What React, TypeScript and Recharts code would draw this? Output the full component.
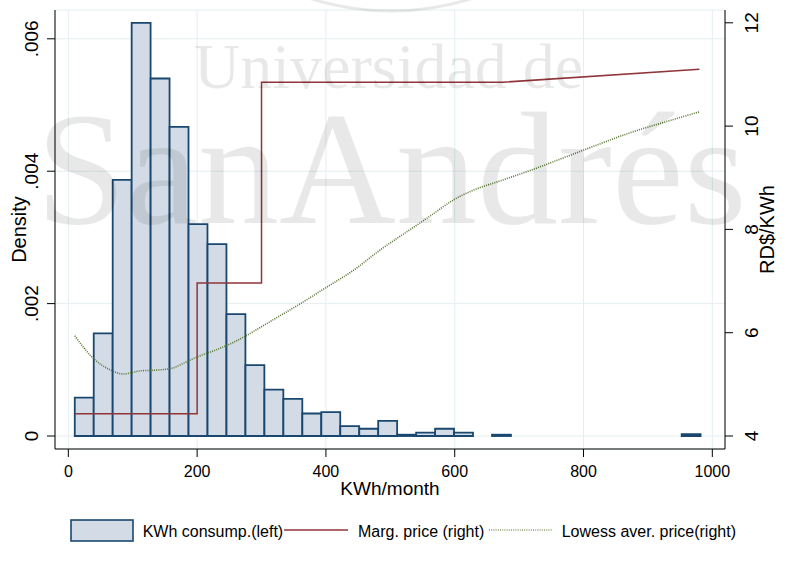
import React from 'react';
import { ComposedChart, Bar, Line, XAxis, YAxis, CartesianGrid } from 'recharts';

// ---------- data ----------
const binMids = [
  24.725, 54.175, 83.625, 113.075, 142.525, 171.975, 201.425, 230.875, 260.325,
  289.775, 319.225, 348.675, 378.125, 407.575, 437.025, 466.475, 495.925, 525.375,
  554.825, 584.275, 613.725, 643.175, 672.625, 702.075, 731.525, 760.975, 790.425,
  819.875, 849.325, 878.775, 908.225, 937.675, 967.125,
];
const densities = [
  0.00058, 0.00155, 0.00387, 0.00624, 0.0054, 0.00467, 0.0032, 0.0029, 0.00184,
  0.00107, 0.0007, 0.00056, 0.00034, 0.00036, 0.00015, 0.00011, 0.00023, 0.00002,
  0.00005, 0.00011, 0.00005, 0, 0.00002, 0, 0, 0, 0, 0, 0, 0, 0, 0, 0.00003,
];
const margKwh = [10, 200, 200, 300, 300, 675, 980];
const margPrice = [4.43, 4.43, 6.96, 6.96, 10.85, 10.85, 11.1];
const lowessKwh = [
  10, 39, 65, 85, 111, 142, 163, 184, 204, 230, 256, 287, 318, 360, 401, 443,
  484, 512, 536, 562, 598, 629, 666, 717, 774, 820, 872, 924, 981,
];
const lowessPrice = [
  5.94, 5.5, 5.28, 5.2, 5.26, 5.28, 5.32, 5.44, 5.55, 5.67, 5.81, 6.02, 6.25,
  6.56, 6.88, 7.21, 7.6, 7.84, 8.04, 8.26, 8.57, 8.76, 8.92, 9.14, 9.41, 9.63,
  9.87, 10.07, 10.28,
];
const xTicks = [0, 200, 400, 600, 800, 1000];
const densityTicks = [0, 0.002, 0.004, 0.006];
const priceTicks = [4, 6, 8, 10, 12];

const histData = binMids.map((mid, i) => ({ mid, density: densities[i] }));
const margData = margKwh.map((x, i) => ({ x, price: margPrice[i] }));
const lowessData = lowessKwh.map((x, i) => ({ x, price: lowessPrice[i] }));

// ---------- layout / style ----------
const W = 790;
const H = 575;
const MARGIN = { top: 10, right: 0, bottom: 66, left: 0 };
const LEFT_W = 55;
const RIGHT_W = 65;
const XAXIS_H = 60;
const X_DOMAIN: [number, number] = [-20.7, 1019.7];
const PLOT_W = W - MARGIN.left - MARGIN.right - LEFT_W - RIGHT_W;
const PLOT_BOTTOM = H - MARGIN.bottom - XAXIS_H;
const BIN_WIDTH = binMids[1] - binMids[0];
const BAR_PX = (BIN_WIDTH / (X_DOMAIN[1] - X_DOMAIN[0])) * PLOT_W - 0.05;

const FONT = '"Liberation Sans", Arial, Helvetica, sans-serif';
const SERIF = '"Liberation Serif", "Times New Roman", serif';
const BAR_FILL = '#D3DCE6';
const BAR_STROKE = '#1A476F';
const MARG = '#90353B';
const LOWESS = '#55752F';
const GRID = '#E4EEF1';

const fmtDensity = (v: number) => (v === 0 ? '0' : String(v).replace(/^0/, ''));

const LeftTick = (p: any) => {
  const bx = p.x - 9;
  return (
    <text x={bx} y={p.y} transform={`rotate(-90 ${bx} ${p.y})`} textAnchor="middle"
      fontSize={19} fontFamily={FONT} fill="#000">
      {fmtDensity(p.payload.value)}
    </text>
  );
};
const RightTick = (p: any) => {
  const bx = p.x + 25;
  return (
    <text x={bx} y={p.y} transform={`rotate(-90 ${bx} ${p.y})`} textAnchor="middle"
      fontSize={19} fontFamily={FONT} fill="#000">
      {p.payload.value}
    </text>
  );
};
const BottomTick = (p: any) => (
  <text x={p.x} y={p.y + 20} textAnchor="middle" fontSize={16} fontFamily={FONT} fill="#000">
    {p.payload.value}
  </text>
);

const LeftTitle = (p: any) => {
  const vb = p.viewBox || { x: 0, y: 10, width: 55, height: 439 };
  const bx = vb.x + 25.5;
  const cy = vb.y + vb.height / 2;
  return (
    <text x={bx} y={cy} transform={`rotate(-90 ${bx} ${cy})`} textAnchor="middle"
      fontSize={20} fontFamily={FONT} fill="#000">Density</text>
  );
};
const RightTitle = (p: any) => {
  const vb = p.viewBox || { x: 725, y: 10, width: 65, height: 439 };
  const bx = vb.x + 49;
  const cy = vb.y + vb.height / 2;
  return (
    <text x={bx} y={cy} transform={`rotate(-90 ${bx} ${cy})`} textAnchor="middle"
      fontSize={20} fontFamily={FONT} fill="#000">RD$/KWh</text>
  );
};

const Overlay = () => (
  <svg width={W} height={H} style={{ position: 'absolute', left: 0, top: 0, pointerEvents: 'none' }}>
    {/* watermark */}
    <text fill="#000" fillOpacity={0.09} fontFamily={SERIF}>
      <tspan x={194} y={88} fontSize={64}>Universidad de</tspan>
      <tspan x={36} y={223} fontSize={162}>SanAndrés</tspan>
    </text>
    <circle cx={391} cy={-257} r={268} fill="none" stroke="#000" strokeOpacity={0.09} strokeWidth={3} />
    {/* x axis title */}
    <text x={LEFT_W + PLOT_W / 2} y={PLOT_BOTTOM + 46} textAnchor="middle" fontSize={19}
      fontFamily={FONT} fill="#000">KWh/month</text>
    {/* legend */}
    <rect x={71} y={520} width={62} height={21} fill={BAR_FILL} stroke={BAR_STROKE} strokeWidth={1.6} />
    <text x={142.7} y={537} fontSize={16} fontFamily={FONT} fill="#000">KWh consump.(left)</text>
    <line x1={284} y1={530} x2={348} y2={530} stroke={MARG} strokeWidth={1.5} />
    <text x={358} y={537} fontSize={16} fontFamily={FONT} fill="#000">Marg. price (right)</text>
    <line x1={489} y1={530} x2={552} y2={530} stroke={LOWESS} strokeWidth={1.3} strokeDasharray="1 1.2" strokeOpacity={0.7} />
    <text x={561.7} y={537} fontSize={16} fontFamily={FONT} fill="#000">Lowess aver. price(right)</text>
  </svg>
);

export default function App() {
  return (
    <div style={{ position: 'absolute', left: 0, top: 0, width: W, height: H, background: '#fff' }}>
      <ComposedChart
        width={W}
        height={H}
        data={histData}
        margin={MARGIN}
        barCategoryGap={0}
        barGap={0}
      >
        <CartesianGrid xAxisId="x" yAxisId="left" stroke={GRID} strokeWidth={1} />
        <XAxis
          xAxisId="x"
          type="number"
          dataKey="x"
          domain={X_DOMAIN}
          allowDataOverflow
          ticks={xTicks}
          height={XAXIS_H}
          tickSize={8}
          tickMargin={0}
          axisLine={{ stroke: '#000' }}
          tickLine={{ stroke: '#000' }}
          tick={<BottomTick />}
        />
        <XAxis
          xAxisId="hist"
          type="number"
          dataKey="mid"
          domain={X_DOMAIN}
          allowDataOverflow
          height={0}
          hide
        />
        <YAxis
          yAxisId="left"
          type="number"
          domain={[-0.000196, 0.006435]}
          allowDataOverflow
          ticks={densityTicks}
          width={LEFT_W}
          tickSize={8}
          tickMargin={0}
          axisLine={{ stroke: '#000' }}
          tickLine={{ stroke: '#000' }}
          tick={<LeftTick />}
          label={<LeftTitle />}
        />
        <YAxis
          yAxisId="right"
          orientation="right"
          type="number"
          domain={[3.748, 12.248]}
          allowDataOverflow
          ticks={priceTicks}
          width={RIGHT_W}
          tickSize={8}
          tickMargin={0}
          axisLine={{ stroke: '#000' }}
          tickLine={{ stroke: '#000' }}
          tick={<RightTick />}
          label={<RightTitle />}
        />
        <Bar
          xAxisId="hist"
          yAxisId="left"
          dataKey="density"
          barSize={BAR_PX}
          fill={BAR_FILL}
          stroke={BAR_STROKE}
          strokeWidth={1.8}
          isAnimationActive={false}
        />
        <Line
          xAxisId="x"
          yAxisId="right"
          data={margData}
          dataKey="price"
          type="linear"
          stroke={MARG}
          strokeWidth={1.5}
          dot={false}
          activeDot={false}
          isAnimationActive={false}
        />
        <Line
          xAxisId="x"
          yAxisId="right"
          data={lowessData}
          dataKey="price"
          type="monotone"
          stroke={LOWESS}
          strokeWidth={1.6}
          strokeDasharray="1 1.2"
          dot={false}
          activeDot={false}
          isAnimationActive={false}
        />
      </ComposedChart>
      <Overlay />
    </div>
  );
}
